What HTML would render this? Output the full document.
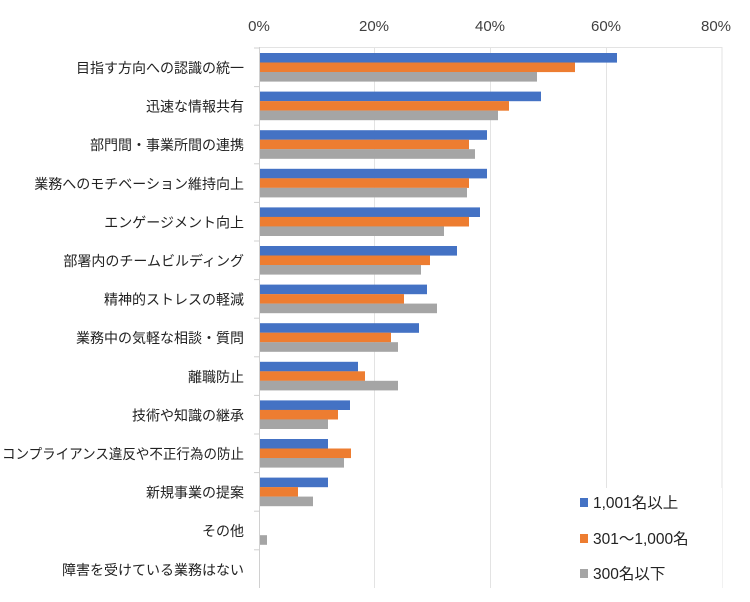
<!DOCTYPE html>
<html><head><meta charset="utf-8"><style>
body{margin:0;background:#fff}
svg{display:block;font-family:"Liberation Sans","Noto Sans CJK JP",sans-serif}
</style></head><body>
<svg width="750" height="602" viewBox="0 0 750 602">
<g stroke="#e3e3e3" stroke-width="1">
<line x1="259" y1="47.5" x2="722" y2="47.5"/>
<line x1="374.5" y1="47" x2="374.5" y2="588"/>
<line x1="490.5" y1="47" x2="490.5" y2="588"/>
<line x1="606.5" y1="47" x2="606.5" y2="588"/>
<line x1="722" y1="47" x2="722" y2="588"/>
</g>
<g font-size="15" fill="#404040" text-anchor="middle">
<text x="259" y="31">0%</text><text x="374" y="31">20%</text><text x="490" y="31">40%</text><text x="606" y="31">60%</text><text x="716" y="31">80%</text>
</g>
<g>
<rect x="259" y="53" width="358" height="9.6" fill="#4472C4"/><rect x="259" y="62.5" width="316" height="9.6" fill="#ED7D31"/><rect x="259" y="72" width="278" height="9.6" fill="#A5A5A5"/>
<rect x="259" y="91.6" width="282" height="9.6" fill="#4472C4"/><rect x="259" y="101.1" width="250" height="9.6" fill="#ED7D31"/><rect x="259" y="110.6" width="239" height="9.6" fill="#A5A5A5"/>
<rect x="259" y="130.2" width="228" height="9.6" fill="#4472C4"/><rect x="259" y="139.7" width="210" height="9.6" fill="#ED7D31"/><rect x="259" y="149.2" width="216" height="9.6" fill="#A5A5A5"/>
<rect x="259" y="168.8" width="228" height="9.6" fill="#4472C4"/><rect x="259" y="178.3" width="210" height="9.6" fill="#ED7D31"/><rect x="259" y="187.8" width="208" height="9.6" fill="#A5A5A5"/>
<rect x="259" y="207.4" width="221" height="9.6" fill="#4472C4"/><rect x="259" y="216.9" width="210" height="9.6" fill="#ED7D31"/><rect x="259" y="226.4" width="185" height="9.6" fill="#A5A5A5"/>
<rect x="259" y="246" width="198" height="9.6" fill="#4472C4"/><rect x="259" y="255.5" width="171" height="9.6" fill="#ED7D31"/><rect x="259" y="265" width="162" height="9.6" fill="#A5A5A5"/>
<rect x="259" y="284.6" width="168" height="9.6" fill="#4472C4"/><rect x="259" y="294.1" width="145" height="9.6" fill="#ED7D31"/><rect x="259" y="303.6" width="178" height="9.6" fill="#A5A5A5"/>
<rect x="259" y="323.2" width="160" height="9.6" fill="#4472C4"/><rect x="259" y="332.7" width="132" height="9.6" fill="#ED7D31"/><rect x="259" y="342.2" width="139" height="9.6" fill="#A5A5A5"/>
<rect x="259" y="361.8" width="99" height="9.6" fill="#4472C4"/><rect x="259" y="371.3" width="106" height="9.6" fill="#ED7D31"/><rect x="259" y="380.8" width="139" height="9.6" fill="#A5A5A5"/>
<rect x="259" y="400.4" width="91" height="9.6" fill="#4472C4"/><rect x="259" y="409.9" width="79" height="9.6" fill="#ED7D31"/><rect x="259" y="419.4" width="69" height="9.6" fill="#A5A5A5"/>
<rect x="259" y="439" width="69" height="9.6" fill="#4472C4"/><rect x="259" y="448.5" width="92" height="9.6" fill="#ED7D31"/><rect x="259" y="458" width="85" height="9.6" fill="#A5A5A5"/>
<rect x="259" y="477.6" width="69" height="9.6" fill="#4472C4"/><rect x="259" y="487.1" width="39" height="9.6" fill="#ED7D31"/><rect x="259" y="496.6" width="54" height="9.6" fill="#A5A5A5"/>
<rect x="259" y="535.2" width="8" height="9.6" fill="#A5A5A5"/>
</g>
<g stroke="#d0d0d0">
<line x1="254" x2="259" y1="48" y2="48"/><line x1="254" x2="259" y1="86.6" y2="86.6"/><line x1="254" x2="259" y1="125.2" y2="125.2"/><line x1="254" x2="259" y1="163.8" y2="163.8"/><line x1="254" x2="259" y1="202.4" y2="202.4"/><line x1="254" x2="259" y1="241" y2="241"/><line x1="254" x2="259" y1="279.6" y2="279.6"/><line x1="254" x2="259" y1="318.2" y2="318.2"/><line x1="254" x2="259" y1="356.8" y2="356.8"/><line x1="254" x2="259" y1="395.4" y2="395.4"/><line x1="254" x2="259" y1="434" y2="434"/><line x1="254" x2="259" y1="472.6" y2="472.6"/><line x1="254" x2="259" y1="511.2" y2="511.2"/><line x1="254" x2="259" y1="549.8" y2="549.8"/>
</g>
<line x1="259.5" y1="47" x2="259.5" y2="588" stroke="#d0d0d0"/>
<rect x="574" y="488" width="148" height="102" fill="#fff"/>
<g font-size="15.5" fill="#222">
<rect x="580" y="498" width="8" height="9" fill="#4472C4"/><text x="593" y="508">1,001名以上</text>
<rect x="580" y="534" width="8" height="9" fill="#ED7D31"/><text x="593" y="544">301～1,000名</text>
<rect x="580" y="569" width="8" height="9" fill="#A5A5A5"/><text x="593" y="579">300名以下</text>
</g>
<g font-size="14" fill="#222" text-anchor="end">
<text x="244" y="73">目指す方向への認識の統一</text>
<text x="244" y="111.6">迅速な情報共有</text>
<text x="244" y="150.2">部門間・事業所間の連携</text>
<text x="244" y="188.8">業務へのモチベーション維持向上</text>
<text x="244" y="227.4">エンゲージメント向上</text>
<text x="244" y="266">部署内のチームビルディング</text>
<text x="244" y="304.6">精神的ストレスの軽減</text>
<text x="244" y="343.2">業務中の気軽な相談・質問</text>
<text x="244" y="381.8">離職防止</text>
<text x="244" y="420.4">技術や知識の継承</text>
<text x="244" y="459" textLength="242" lengthAdjust="spacingAndGlyphs">コンプライアンス違反や不正行為の防止</text>
<text x="244" y="497.6">新規事業の提案</text>
<text x="244" y="536.2">その他</text>
<text x="244" y="574.8">障害を受けている業務はない</text>
</g>
</svg>
</body></html>
